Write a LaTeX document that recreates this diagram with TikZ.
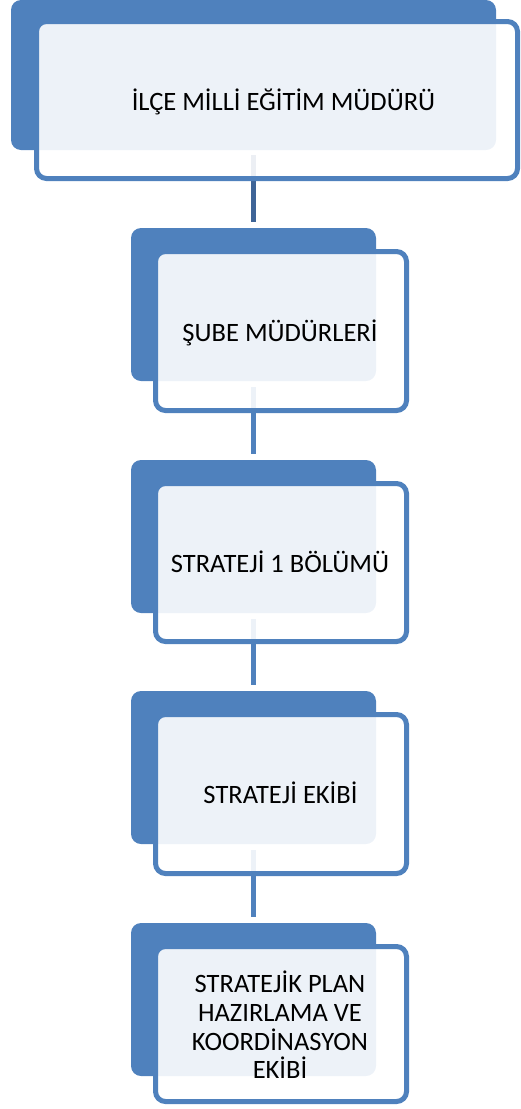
\documentclass[tikz,border=0pt]{standalone}
\usepackage{fontspec}
\setmainfont{Carlito}
\definecolor{accent}{HTML}{4F81BD}
\definecolor{darkline}{HTML}{3E6497}
\tikzset{
  backbox/.style={rectangle, rounded corners=10pt, fill=accent, draw=none, inner sep=0pt},
  framebox/.style={rectangle, rounded corners=10pt, draw=accent, line width=5pt, fill=white, fill opacity=0.9, draw opacity=1, inner sep=0pt},
  label/.style={text=black, font=\fontsize{26.5}{28.7}\selectfont, align=center, inner sep=0pt},
  conn/.style={line width=5.3pt, draw=accent},
}
\begin{document}
\begin{tikzpicture}[x=1pt,y=-1pt]
\useasboundingbox (0,0) rectangle (520,1109);
% back boxes
\node[backbox, minimum width=485pt, minimum height=150pt] (b1) at (253.5,75) {};
\node[backbox, minimum width=245pt, minimum height=153pt] (b2) at (253.5,304.5) {};
\node[backbox, minimum width=245pt, minimum height=153pt] (b3) at (253.5,536.5) {};
\node[backbox, minimum width=245pt, minimum height=153pt] (b4) at (253.5,767.5) {};
\node[backbox, minimum width=245pt, minimum height=153pt] (b5) at (253.5,999.5) {};
% connectors
\draw[conn, draw=darkline] ([yshift=-5pt]b1.south) -- ([yshift=6pt]b2.north);
\draw[conn] ([yshift=-6pt]b2.south) -- ([yshift=6pt]b3.north);
\draw[conn] ([yshift=-6pt]b3.south) -- ([yshift=6pt]b4.north);
\draw[conn] ([yshift=-6pt]b4.south) -- ([yshift=6pt]b5.north);
% frames
\node[framebox, minimum width=481pt, minimum height=157pt] (f1) at (277,100) {};
\node[framebox, minimum width=251pt, minimum height=159pt] (f2) at (281,331) {};
\node[framebox, minimum width=251pt, minimum height=158pt] (f3) at (281,562.5) {};
\node[framebox, minimum width=251pt, minimum height=159pt] (f4) at (281,794) {};
\node[framebox, minimum width=251pt, minimum height=155pt] (f5) at (281,1024) {};
% texts
\node[label] (t1) at (283.5,102) {İLÇE MİLLİ EĞİTİM MÜDÜRÜ};
\node[label] (t2) at (280,333) {ŞUBE MÜDÜRLERİ};
\node[label] (t3) at (280,562) {STRATEJİ 1 BÖLÜMÜ};
\node[label] (t4) at (280.5,793) {STRATEJİ EKİBİ};
\node[label] (t5) at (280,1025) {STRATEJİK PLAN\\HAZIRLAMA VE\\KOORDİNASYON\\EKİBİ};
\end{tikzpicture}
\end{document}
